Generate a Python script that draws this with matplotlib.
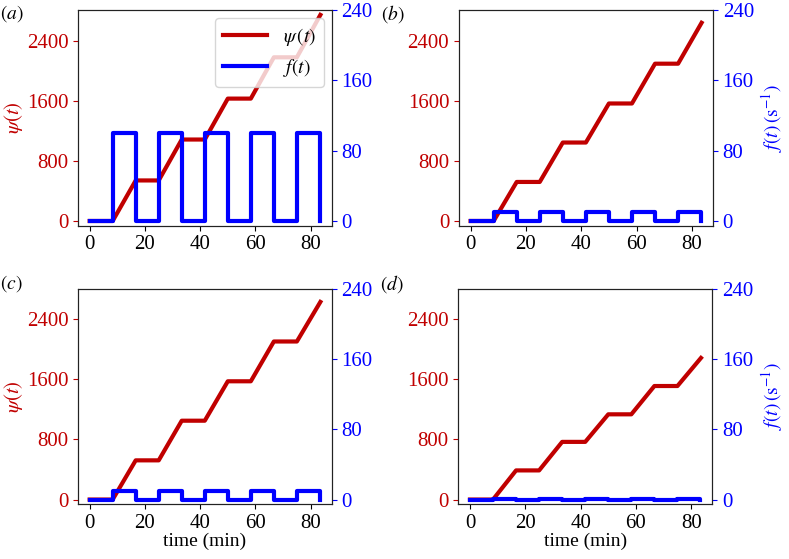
import numpy as np
import matplotlib
matplotlib.use("Agg")
import matplotlib.pyplot as plt

plt.rcParams['font.family'] = ['Liberation Serif', 'DejaVu Serif']
plt.rcParams['mathtext.fontset'] = 'stix'
plt.rcParams['font.size'] = 14

RED = '#c00000'
BLUE = '#0000ff'

# breakpoints (min)
t_psi = [0, 8.33, 16.67, 25, 33.33, 41.67, 50, 58.33, 66.67, 75, 83.5]
psi_a = [0, 0, 540, 540, 1085, 1085, 1630, 1630, 2180, 2180, 2745]
psi_b = [0, 0, 520, 520, 1045, 1045, 1565, 1565, 2095, 2095, 2640]
psi_c = [0, 0, 522, 522, 1050, 1050, 1575, 1575, 2105, 2105, 2632]
psi_d = [0, 0, 388, 388, 768, 768, 1135, 1135, 1512, 1512, 1886]

t_f = [0, 8.33, 16.67, 25, 33.33, 41.67, 50, 58.33, 66.67, 75, 83.33]
f_a = [0, 100, 0, 100, 0, 100, 0, 100, 0, 100, 0]
f_b = [0, 10, 0, 10, 0, 10, 0, 10, 0, 10, 0]
f_c = [0, 10, 0, 10, 0, 10, 0, 10, 0, 10, 0]
f_d = [0, 1, 0, 1, 0, 1, 0, 1, 0, 1, 0]

panels = [
    ('a', psi_a, f_a, [0.0989, 0.5962, 0.3215, 0.3859], True, False, False),
    ('b', psi_b, f_b, [0.5817, 0.5962, 0.3219, 0.3859], False, True, False),
    ('c', psi_c, f_c, [0.0989, 0.0979, 0.3215, 0.3859], True, False, True),
    ('d', psi_d, f_d, [0.5809, 0.0979, 0.3219, 0.3859], False, True, True),
]

fig = plt.figure(figsize=(7.89, 5.59), dpi=100)

for tag, psi, f, pos, left_lab, right_lab, x_lab in panels:
    ax = fig.add_axes(pos)
    l1, = ax.plot(t_psi, psi, color=RED, lw=3)
    ax.set_xlim(-4.2, 87.6)
    ax.set_ylim(-63, 2810)
    ax.set_yticks([0, 800, 1600, 2400])
    ax.set_xticks([0, 20, 40, 60, 80])
    ax.tick_params(axis='y', colors=RED, labelsize=15)
    ax.tick_params(axis='x', labelsize=15)
    for s in ax.spines.values():
        s.set_color('#222222')
    if left_lab:
        ax.set_ylabel(r'$\psi(t)$', color=RED, fontsize=15, labelpad=1)
    if x_lab:
        ax.set_xlabel('time (min)', fontsize=14, labelpad=0)

    ax2 = ax.twinx()
    l2, = ax2.plot(t_f, f, color=BLUE, lw=3, drawstyle='steps-post')
    ax2.set_ylim(-5.4, 240)
    ax2.set_yticks([0, 80, 160, 240])
    ax2.tick_params(axis='y', colors=BLUE, labelsize=15)
    for s in ax2.spines.values():
        s.set_color('#222222')
    if right_lab:
        ax2.set_ylabel(r'$f(t)\,(\mathrm{s}^{-1})$', color=BLUE, fontsize=14, labelpad=4)

    fig.text(pos[0] - 0.099, 0.994 if pos[1] > 0.5 else pos[1] + pos[3] + 0.027,
             r'$(%s)$' % tag, fontsize=14, va='top', ha='left')

    if tag == 'a':
        ax2.legend([l1, l2], [r'$\psi\,(t)$', r'$f(t)$'], loc='upper right', fontsize=14,
                   handlelength=2.3, borderaxespad=0.4)

fig.savefig('out.png', dpi=100)
